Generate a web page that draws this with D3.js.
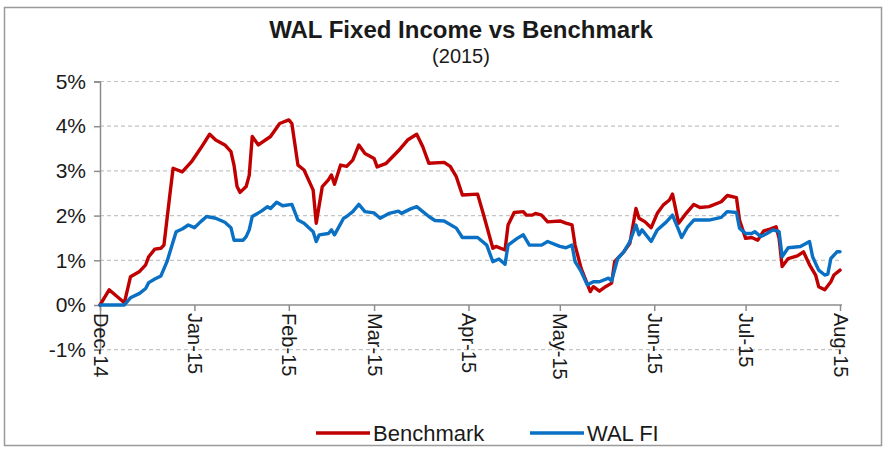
<!DOCTYPE html>
<html>
<head>
<meta charset="utf-8">
<title>WAL Fixed Income vs Benchmark</title>
<script src="https://cdn.jsdelivr.net/npm/d3@7"></script>
<style>
    body { margin: 0; background: #fff; }
    svg text { font-family: "Liberation Sans", Arial, sans-serif; fill: #1a1a1a; }
    .axis path, .axis line { stroke: #8c8c8c; stroke-width: 1.5; }
    .grid line { stroke: #c4c4c4; stroke-width: 1.2; stroke-dasharray: 4 3; }
</style>
</head>
<body>
<div id="chart"></div>
<script>

// Benchmark, cumulative return in %
const benchmarkDates = ["2014-12-01","2014-12-04","2014-12-09","2014-12-11","2014-12-14","2014-12-16","2014-12-17","2014-12-19","2014-12-21","2014-12-22","2014-12-24","2014-12-25","2014-12-28","2014-12-31",
    "2015-01-03","2015-01-06","2015-01-08","2015-01-11","2015-01-13","2015-01-14","2015-01-15","2015-01-16","2015-01-18","2015-01-19","2015-01-20","2015-01-22","2015-01-26","2015-01-29",
    "2015-02-01","2015-02-02","2015-02-04","2015-02-06","2015-02-08","2015-02-09","2015-02-10","2015-02-11","2015-02-12","2015-02-14","2015-02-15","2015-02-16","2015-02-18","2015-02-20","2015-02-22","2015-02-24","2015-02-26",
    "2015-03-01","2015-03-02","2015-03-05","2015-03-09","2015-03-12","2015-03-15","2015-03-17","2015-03-19","2015-03-24","2015-03-26","2015-03-28","2015-03-30",
    "2015-04-04","2015-04-06","2015-04-09","2015-04-10","2015-04-13","2015-04-14","2015-04-16","2015-04-19","2015-04-20","2015-04-22","2015-04-23","2015-04-25","2015-04-27",
    "2015-05-01","2015-05-03","2015-05-05","2015-05-06","2015-05-08","2015-05-11","2015-05-12","2015-05-14","2015-05-16","2015-05-18","2015-05-19","2015-05-22","2015-05-24","2015-05-26","2015-05-27","2015-05-29","2015-05-31",
    "2015-06-02","2015-06-04","2015-06-06","2015-06-07","2015-06-09","2015-06-11","2015-06-14","2015-06-16","2015-06-19","2015-06-23","2015-06-25","2015-06-28","2015-06-29",
    "2015-07-01","2015-07-03","2015-07-05","2015-07-07","2015-07-09","2015-07-11","2015-07-12","2015-07-13","2015-07-15","2015-07-18","2015-07-20","2015-07-22","2015-07-24","2015-07-25","2015-07-27","2015-07-29","2015-07-30","2015-08-01"];
const benchmarkValues = [0,0.34,0.05,0.63,0.75,0.9,1.08,1.25,1.27,1.34,2.5,3.06,2.98,3.2,
    3.5,3.82,3.69,3.58,3.43,3.13,2.65,2.52,2.65,2.9,3.77,3.58,3.77,4.06,
    4.14,4.06,3.13,3.02,2.72,2.57,1.83,2.24,2.65,2.8,2.91,2.7,3.13,3.1,3.24,3.58,3.39,
    3.28,3.09,3.17,3.45,3.69,3.82,3.54,3.17,3.19,3.1,2.87,2.46,
    2.48,2.01,1.27,1.31,1.23,1.79,2.07,2.09,2.01,2.01,2.05,2.01,1.86,
    1.88,1.83,1.79,1.34,0.82,0.3,0.41,0.31,0.41,0.49,0.97,1.19,1.38,2.16,1.94,1.86,1.73,
    2.05,2.24,2.35,2.48,1.83,2.01,2.25,2.18,2.2,2.31,2.45,2.4,1.9,
    1.49,1.51,1.45,1.66,1.7,1.75,1.49,0.86,1.04,1.1,1.19,0.9,0.67,0.41,0.34,0.52,0.67,0.78];

// WAL FI, cumulative return in %
const walDates = ["2014-12-01","2014-12-09","2014-12-11","2014-12-14","2014-12-16","2014-12-17","2014-12-19","2014-12-21","2014-12-23","2014-12-26","2014-12-28","2014-12-30",
    "2015-01-01","2015-01-03","2015-01-05","2015-01-08","2015-01-11","2015-01-13","2015-01-14","2015-01-17","2015-01-18","2015-01-19","2015-01-20","2015-01-23","2015-01-25","2015-01-26","2015-01-28","2015-01-30",
    "2015-02-02","2015-02-04","2015-02-06","2015-02-09","2015-02-10","2015-02-11","2015-02-14","2015-02-15","2015-02-16","2015-02-19","2015-02-20","2015-02-22","2015-02-24","2015-02-26",
    "2015-03-01","2015-03-03","2015-03-06","2015-03-09","2015-03-10","2015-03-13","2015-03-15","2015-03-17","2015-03-19","2015-03-21","2015-03-24","2015-03-28","2015-03-30",
    "2015-04-04","2015-04-07","2015-04-09","2015-04-11","2015-04-13","2015-04-14","2015-04-17","2015-04-19","2015-04-21","2015-04-25","2015-04-27",
    "2015-05-01","2015-05-03","2015-05-05","2015-05-06","2015-05-08","2015-05-10","2015-05-12","2015-05-14","2015-05-17","2015-05-18","2015-05-20","2015-05-22","2015-05-24","2015-05-26","2015-05-27","2015-05-28","2015-05-31",
    "2015-06-02","2015-06-05","2015-06-07","2015-06-09","2015-06-10","2015-06-12","2015-06-14","2015-06-19","2015-06-23","2015-06-25","2015-06-28","2015-06-29",
    "2015-07-01","2015-07-03","2015-07-04","2015-07-06","2015-07-08","2015-07-10","2015-07-12","2015-07-13","2015-07-15","2015-07-19","2015-07-22","2015-07-23","2015-07-25","2015-07-27","2015-07-28","2015-07-29","2015-07-31","2015-08-01"];
const walValues = [0,0,0.16,0.26,0.37,0.5,0.58,0.65,0.97,1.64,1.7,1.79,
    1.73,1.86,1.98,1.94,1.85,1.73,1.45,1.45,1.53,1.68,1.98,2.1,2.2,2.16,2.3,2.22,
    2.25,1.9,1.83,1.64,1.42,1.57,1.6,1.68,1.57,1.94,1.98,2.09,2.25,2.09,
    2.06,1.94,2.05,2.1,2.05,2.15,2.2,2.09,1.98,1.89,1.88,1.72,1.51,
    1.51,1.34,0.97,1.03,0.91,1.34,1.49,1.57,1.34,1.34,1.42,
    1.31,1.28,1.34,0.97,0.75,0.45,0.52,0.52,0.6,0.54,1.04,1.19,1.42,1.79,1.57,1.68,1.42,
    1.68,1.86,2.01,1.68,1.51,1.75,1.9,1.9,1.96,2.09,2.07,1.72,
    1.6,1.6,1.64,1.53,1.6,1.68,1.64,1.08,1.28,1.31,1.42,1.08,0.78,0.67,0.69,1.04,1.19,1.19];

// axis ticks
const yTicks = [-1, 0, 1, 2, 3, 4, 5];
const monthTicks = ["2014-12-01","2015-01-01","2015-02-01","2015-03-01","2015-04-01","2015-05-01","2015-06-01","2015-07-01","2015-08-01"];

const seriesNames = ["Benchmark", "WAL FI"];
const seriesColors = ["#c00000", "#0a70c4"];


class ReturnChart {

    constructor(parentElement) {
        this.parentElement = parentElement;
        this.parseDate = d3.timeParse("%Y-%m-%d");
        this.formatDate = d3.timeFormat("%b-%y"); // "Dec-14"
        this.initVis();
    }

    initVis() {
        let vis = this;

        vis.width = 889;
        vis.height = 451;

        vis.svg = d3.select("#" + vis.parentElement).append("svg")
            .attr("width", vis.width)
            .attr("height", vis.height);

        vis.svg.append("rect")
            .attr("width", vis.width).attr("height", vis.height)
            .attr("fill", "#fff");

        // chart frame
        vis.svg.append("rect")
            .attr("x", 4.5).attr("y", 7.5)
            .attr("width", 877).attr("height", 438)
            .attr("fill", "none")
            .attr("stroke", "#9a9a9a")
            .attr("stroke-width", 1.5);

        vis.x = d3.scaleTime()
            .domain([vis.parseDate(monthTicks[0]), vis.parseDate(monthTicks[monthTicks.length - 1])])
            .range([100, 840]);

        vis.y = d3.scaleLinear()
            .domain([-1, 5])
            .range([349.7, 81.5]);

        // title
        vis.svg.append("text")
            .attr("x", 461).attr("y", 38)
            .attr("text-anchor", "middle")
            .style("font-size", "24px")
            .style("font-weight", "bold")
            .text("WAL Fixed Income vs Benchmark");

        vis.svg.append("text")
            .attr("x", 461).attr("y", 63)
            .attr("text-anchor", "middle")
            .style("font-size", "20px")
            .text("(2015)");

        vis.wrangleData();
    }

    wrangleData() {
        let vis = this;

        vis.series = [
            {name: seriesNames[0], color: seriesColors[0],
                values: benchmarkDates.map((d, i) => ({date: vis.parseDate(d), value: benchmarkValues[i]}))},
            {name: seriesNames[1], color: seriesColors[1],
                values: walDates.map((d, i) => ({date: vis.parseDate(d), value: walValues[i]}))}
        ];

        vis.updateVis();
    }

    updateVis() {
        let vis = this;

        // dashed gridlines
        vis.svg.append("g").attr("class", "grid")
            .selectAll("line")
            .data(yTicks.filter(d => d !== 0))
            .enter().append("line")
            .attr("x1", vis.x.range()[0]).attr("x2", vis.x.range()[1] + 2)
            .attr("y1", d => vis.y(d)).attr("y2", d => vis.y(d));

        // y axis
        let yAxis = d3.axisLeft(vis.y)
            .tickValues(yTicks)
            .tickSize(6)
            .tickPadding(8)
            .tickFormat(d => d + "%");

        let yAxisGroup = vis.svg.append("g").attr("class", "axis y-axis")
            .attr("transform", "translate(" + vis.x.range()[0] + ",0)")
            .call(yAxis);
        yAxisGroup.selectAll("text").style("font-size", "21px");

        // x axis sits on the 0% line
        let xAxis = d3.axisBottom(vis.x)
            .tickValues(monthTicks.map(vis.parseDate))
            .tickSize(6)
            .tickSizeOuter(0)
            .tickFormat(vis.formatDate);

        let xAxisGroup = vis.svg.append("g").attr("class", "axis x-axis")
            .attr("transform", "translate(0," + vis.y(0) + ")")
            .call(xAxis);
        xAxisGroup.select(".domain").attr("d", "M" + vis.x.range()[0] + ",0H" + (vis.x.range()[1] + 2));
        xAxisGroup.selectAll("text")
            .style("font-size", "20px")
            .style("text-anchor", "start")
            .attr("transform", "rotate(90)")
            .attr("x", 8)
            .attr("y", 0)
            .attr("dy", "0.35em");

        // lines
        let line = d3.line()
            .x(d => vis.x(d.date))
            .y(d => vis.y(d.value));

        vis.svg.append("g").selectAll("path")
            .data(vis.series)
            .enter().append("path")
            .attr("d", d => line(d.values))
            .attr("fill", "none")
            .attr("stroke", d => d.color)
            .attr("stroke-width", 3.4)
            .attr("stroke-linejoin", "round")
            .attr("stroke-linecap", "round");

        // legend
        let legendX = [316, 530];
        let legend = vis.svg.append("g").selectAll("g")
            .data(vis.series)
            .enter().append("g")
            .attr("transform", (d, i) => "translate(" + legendX[i] + ",433)");

        legend.append("line")
            .attr("x1", 0).attr("x2", 54)
            .attr("stroke", d => d.color)
            .attr("stroke-width", 3.4);

        legend.append("text")
            .attr("x", 57)
            .attr("dy", "0.35em")
            .style("font-size", "22px")
            .text(d => d.name);
    }
}

let chart = new ReturnChart("chart");

</script>
</body>
</html>
